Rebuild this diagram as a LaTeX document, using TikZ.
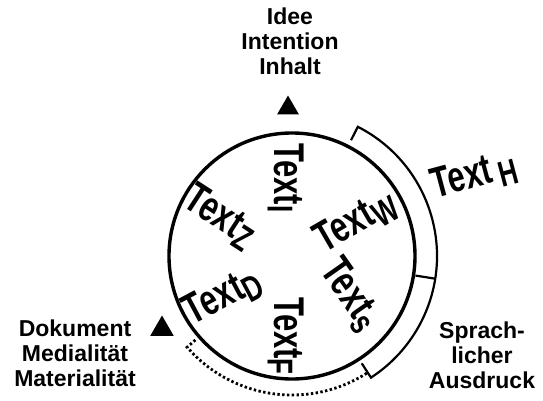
\documentclass[tikz,border=0pt]{standalone}
\usepackage{fontspec}
\setmainfont{Liberation Sans}
\newfontfamily\narrowFont[FakeStretch=0.72]{Liberation Sans}
\usetikzlibrary{shapes.geometric, calc}

% Text mit tiefgestelltem Index
\newcommand{\textSub}[2][0pt]{Text\hspace{#1}\raisebox{-7pt}{\fontsize{36}{36}\selectfont #2}}

\tikzset{
    % --- Beschriftungen aussen ---
    mainLabel/.style={
        font=\fontsize{23}{25}\selectfont\bfseries,
        align=center, inner sep=0pt
    },
    % --- Text-Varianten im Kreis ---
    textLabel/.style={
        font=\narrowFont\bfseries\fontsize{43}{43}\selectfont,
        inner sep=0pt
    },
    % --- Dreiecke ---
    marker/.style={
        regular polygon, regular polygon sides=3,
        fill=black, inner sep=0pt, minimum size=#1
    },
    % --- Linien ---
    ring/.style={line width=3.4pt},
    span/.style={line width=2.2pt},
    spanDotted/.style={line width=2.8pt, dash pattern=on 2.4pt off 2.4pt}
}

\begin{document}
\begin{tikzpicture}[x=1pt, y=1pt]

	\useasboundingbox (0,0) rectangle (543,400);

	% =========================================
	% 1. Kreis und Boegen
	% =========================================
	\coordinate (c) at (292,144);
	\draw[ring] (c) circle[radius=123];

	% Bogen: Text H
	\draw[span] ($(c)+(63:130)$) -- ($(c)+(63:145)$)
		arc[start angle=63, end angle=-57, radius=145]
		-- ($(c)+(-57:128)$);
	\draw[span] ($(c)+(-9:125)$) -- ($(c)+(-9:145)$);

	% gepunkteter Bogen unten
	\draw[spanDotted] ($(c)+(221:128)$) -- ($(c)+(221:139)$)
		arc[start angle=221, end angle=303, radius=139];

	% =========================================
	% 2. Dreiecke und Beschriftungen
	% =========================================
	\node[marker=25pt] (upMark) at (288,292) {};
	\node[marker=27pt] (leftMark) at (162,71) {};

	\node[mainLabel] (idea) at (290,359) {Idee\\Intention\\Inhalt};
	\node[mainLabel] (document) at (75,47) {Dokument\\Medialität\\Materialität};
	\node[mainLabel] (expression) at (482,45) {Sprach-\\licher\\Ausdruck};

	% =========================================
	% 3. Text-Varianten
	% =========================================
	\node[textLabel, rotate=-90] (textI) at (286,222) {\textSub{I}};
	\node[textLabel, rotate=-33] (textZ) at (220,183) {\textSub{Z}};
	\node[textLabel, rotate=30]  (textW) at (356,178) {\textSub{W}};
	\node[textLabel, rotate=28]  (textD) at (223,103) {\textSub{D}};
	\node[textLabel, rotate=-55] (textS) at (350,105) {\textSub{s}};
	\node[textLabel, rotate=-90] (textF) at (286,64)  {\textSub{F}};
	\node[textLabel, rotate=15]  (textH) at (474,224) {\textSub[6pt]{H}};

\end{tikzpicture}
\end{document}
